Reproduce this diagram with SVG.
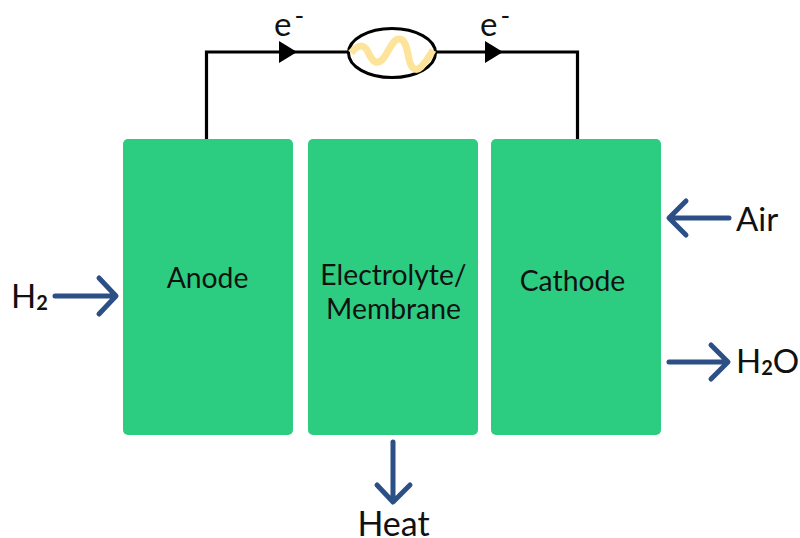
<svg xmlns="http://www.w3.org/2000/svg" width="800" height="538" viewBox="0 0 800 538">
<defs>
<style>
.box{fill:#2ccd81}
.t{font-family:Lato,"Liberation Sans",sans-serif;font-size:28.300px;fill:#111;text-anchor:middle}
.l{font-family:Lato,"Liberation Sans",sans-serif;font-size:33px;fill:#111}
.w{fill:none;stroke:#000;stroke-width:3.2}
.b{fill:none;stroke:#2c4f86;stroke-width:5;stroke-linecap:round;stroke-linejoin:round}
.s{font-size:20px;font-weight:700}
.m{font-size:26px}
.h{font-size:34px}
</style>
</defs>
<rect width="800" height="538" fill="#fff"/>
<g id="connectors">
<path class="w" d="M206.500 139V52H348"/>
<path class="w" d="M436 52H577.500V139"/>
<path d="M279 41L297 52L279 63Z" fill="#000"/>
<path d="M485 41L503 52L485 63Z" fill="#000"/>
<path class="b" d="M55 296H115M99 278L116 296L99 314"/>
<path class="b" d="M729 218H670M686 201L669 218L686 235"/>
<path class="b" d="M669 362H727M711 345L728 362L711 379"/>
<path class="b" d="M393 442V501M377 485L393 502L410 485"/>
</g>
<g id="anode"><rect class="box" x="123" y="139" width="170" height="296" rx="5"/><text class="t" x="207.500" y="288">Anode</text></g>
<g id="membrane"><rect class="box" x="308" y="139" width="170" height="296" rx="5"/><text class="t" x="393.500" y="285">Electrolyte/</text><text class="t" x="393.500" y="319">Membrane</text></g>
<g id="cathode"><rect class="box" x="491" y="139" width="170" height="296" rx="5"/><text class="t" x="572.500" y="291">Cathode</text></g>
<g id="load">
<ellipse cx="392" cy="53" rx="43.500" ry="24.500" fill="#fff" stroke="#000" stroke-width="3"/>
<path d="M351 53C358 44 364 44 368 52C372 61 376 65 382 60C388 54 392 39 399 39C406 39 407 50 409 59C411 69 416 72 421 67C425 63 429 57 433 50" fill="none" stroke="#fee39a" stroke-width="7"/>
</g>
<g id="labels">
<text class="l" x="274" y="36">e<tspan class="m" dx="3" dy="-11">-</tspan></text>
<text class="l" x="480" y="36">e<tspan class="m" dx="3" dy="-11">-</tspan></text>
<text class="l" x="11" y="308">H<tspan class="s" dy="2">2</tspan></text>
<text class="l" x="736" y="231">Air</text>
<text class="l" x="736" y="373">H<tspan class="s" dy="2">2</tspan><tspan dy="-2">O</tspan></text>
<text class="l h" x="393.500" y="536" text-anchor="middle">Heat</text>
</g>
</svg>
